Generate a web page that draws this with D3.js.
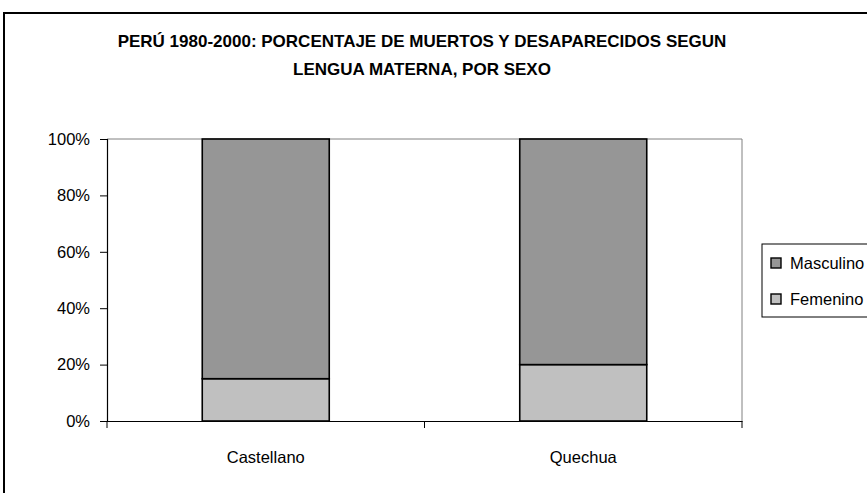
<!DOCTYPE html>
<html>
<head>
<meta charset="utf-8">
<script src="https://cdn.jsdelivr.net/npm/d3@7"></script>
<style>
  body { margin: 0; background: #fff; }
  svg text { font-family: "Liberation Sans Narrow", "Arial Narrow", "Liberation Sans", Arial, sans-serif; }
</style>
</head>
<body>
<script>
// chart data
var categories = ["Castellano", "Quechua"];
var series = ["Femenino", "Masculino"];
var femenino = [15, 20];
var masculino = [85, 80];
var yTicks = [0, 20, 40, 60, 80, 100];
var titleLines = ["PERÚ 1980-2000: PORCENTAJE DE MUERTOS Y DESAPARECIDOS SEGUN", "LENGUA MATERNA, POR SEXO"];

var width = 867,
    height = 493;

var colors = { Femenino: "#c0c0c0", Masculino: "#969696" };

var svg = d3.select("body").append("svg")
    .attr("width", width)
    .attr("height", height);

// outer frame
svg.append("rect")
    .attr("x", 4).attr("y", 13)
    .attr("width", 900).attr("height", 520)
    .attr("fill", "#fff")
    .attr("stroke", "#000")
    .attr("stroke-width", 2);

svg.append("g").selectAll("text")
    .data(titleLines)
    .enter().append("text")
    .attr("x", 422)
    .attr("y", function(d, i) { return 47 + i * 28; })
    .attr("text-anchor", "middle")
    .attr("font-size", "17px")
    .attr("font-weight", "bold")
    .text(function(d) { return d; });

var plot = { left: 107, top: 139, right: 742, bottom: 421 };

var x = d3.scaleBand()
    .domain(categories)
    .range([plot.left, plot.right])
    .paddingInner(0.6)
    .paddingOuter(0.3);

var xOuter = d3.scaleBand()
    .domain(categories)
    .range([plot.left, plot.right]);

var y = d3.scaleLinear()
    .domain([0, 100])
    .range([plot.bottom, plot.top]);

// plot area border (top/right grey)
svg.append("path")
    .attr("d", "M" + plot.left + "," + plot.top + "H" + plot.right + "V" + plot.bottom)
    .attr("fill", "none")
    .attr("stroke", "#808080")
    .attr("stroke-width", 1);

var rows = categories.map(function(c, i) {
  return { cat: c, Femenino: femenino[i], Masculino: masculino[i] };
});
var stacked = d3.stack().keys(series)(rows);

svg.append("g").selectAll("g")
    .data(stacked)
    .enter().append("g")
    .attr("fill", function(d) { return colors[d.key]; })
    .selectAll("rect")
    .data(function(d) { return d; })
    .enter().append("rect")
    .attr("x", function(d) { return x(d.data.cat); })
    .attr("width", x.bandwidth())
    .attr("y", function(d) { return y(d[1]); })
    .attr("height", function(d) { return y(d[0]) - y(d[1]); })
    .attr("stroke", "#000")
    .attr("stroke-width", 1.6);

// y axis
var yAxis = svg.append("g")
    .attr("transform", "translate(" + plot.left + ",0)")
    .call(d3.axisLeft(y).tickValues(yTicks).tickSize(7).tickPadding(10)
      .tickFormat(function(d) { return d + "%"; }));
yAxis.select(".domain").attr("stroke", "#000").attr("stroke-width", 1.2);
yAxis.selectAll("text").attr("font-size", "16.5px").attr("fill", "#000");

// x axis
var xAxis = svg.append("g")
    .attr("transform", "translate(0," + plot.bottom + ")")
    .call(d3.axisBottom(xOuter).tickSize(0).tickPadding(30).tickSizeOuter(0));
xAxis.select(".domain").attr("stroke", "#000").attr("stroke-width", 1.2);
xAxis.selectAll("text").attr("font-size", "16.5px").attr("fill", "#000");
xAxis.selectAll(".sep")
    .data([plot.left].concat(categories.map(function(c) { return xOuter(c) + xOuter.bandwidth(); })))
    .enter().append("line")
    .attr("x1", function(d) { return d; }).attr("x2", function(d) { return d; })
    .attr("y1", 0).attr("y2", 7)
    .attr("stroke", "#000");

// legend
var legend = svg.append("g").attr("transform", "translate(762,244)");
legend.append("rect")
    .attr("width", 120).attr("height", 73)
    .attr("fill", "#fff").attr("stroke", "#000").attr("stroke-width", 1);
var items = legend.selectAll(".item")
    .data(series.slice().reverse())
    .enter().append("g")
    .attr("transform", function(d, i) { return "translate(9," + (14 + i * 36) + ")"; });
items.append("rect")
    .attr("width", 10).attr("height", 10)
    .attr("fill", function(d) { return colors[d]; })
    .attr("stroke", "#000")
    .attr("stroke-width", 1.4);
items.append("text")
    .attr("x", 19).attr("y", 11)
    .attr("font-size", "16.5px")
    .text(function(d) { return d; });
</script>
</body>
</html>
